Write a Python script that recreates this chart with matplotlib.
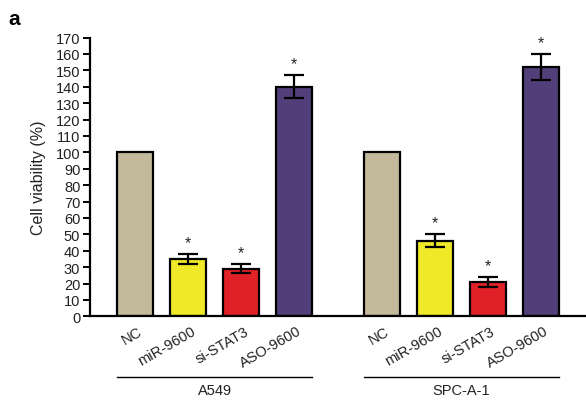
import matplotlib
matplotlib.use("Agg")
import matplotlib.pyplot as plt
import numpy as np

plt.rcParams['font.family'] = ['Liberation Sans', 'DejaVu Sans']

categories = ["NC", "miR-9600", "si-STAT3", "ASO-9600"]
groups = ["A549", "SPC-A-1"]
a549_values = [100, 35, 29, 140]
a549_errors = [0, 3, 2.7, 7]
spc_values = [100, 46, 21, 152]
spc_errors = [0, 4, 3, 8]
significant = [False, True, True, True]
colors = ["#c3b99b", "#f0e927", "#e02228", "#523e78"]

fig = plt.figure(figsize=(5.86, 4.02), dpi=100)
ax = fig.add_axes([0.1536, 0.2107, 0.8464, 0.6935])

group_offset = 4.66
bar_w = 0.68
for g, (vals, errs) in enumerate([(a549_values, a549_errors), (spc_values, spc_errors)]):
    xs = np.arange(len(categories)) + g * group_offset
    ax.bar(xs, vals, width=bar_w, color=colors, edgecolor="black", linewidth=1.6, zorder=2)
    for x, v, e, s in zip(xs, vals, errs, significant):
        if e > 0:
            ax.errorbar(x, v, yerr=e, fmt="none", ecolor="black", elinewidth=1.6,
                        capsize=7.5, capthick=1.6, zorder=3)
        if s:
            ax.text(x, v + e + 2.5, "*", ha="center", va="bottom", fontsize=11.5, color="#222222")
    for x, lab in zip(xs, categories):
        ax.text(x + 0.05, -4.5, lab, rotation=30, ha="right", va="top",
                rotation_mode="anchor", fontsize=10.5, color="#222222")
    # group line and label
    x0 = xs[0] - bar_w / 2
    x1 = xs[-1] + bar_w / 2
    ax.plot([x0, x1], [-37, -37], color="black", linewidth=1.0, clip_on=False)
    ax.text((x0 + x1) / 2, -40.5, groups[g], ha="center", va="top", fontsize=10.5, color="#222222")

ax.set_xlim(-0.85, 8.51)
ax.set_ylim(0, 170)
ax.set_yticks(np.arange(0, 171, 10))
ax.tick_params(axis="y", direction="out", length=5, width=1.4, labelsize=10.5, colors="black",
               labelcolor="#222222", pad=2)
ax.set_xticks([])
for sp in ["top", "right"]:
    ax.spines[sp].set_visible(False)
ax.spines["left"].set_linewidth(1.6)
ax.spines["bottom"].set_linewidth(1.6)
ax.set_ylabel("Cell viability (%)", fontsize=11.5, color="#222222", labelpad=7)

fig.text(0.014, 0.975, "a", fontsize=15, fontweight="bold", va="top", ha="left")

fig.savefig("out.png", dpi=100)
